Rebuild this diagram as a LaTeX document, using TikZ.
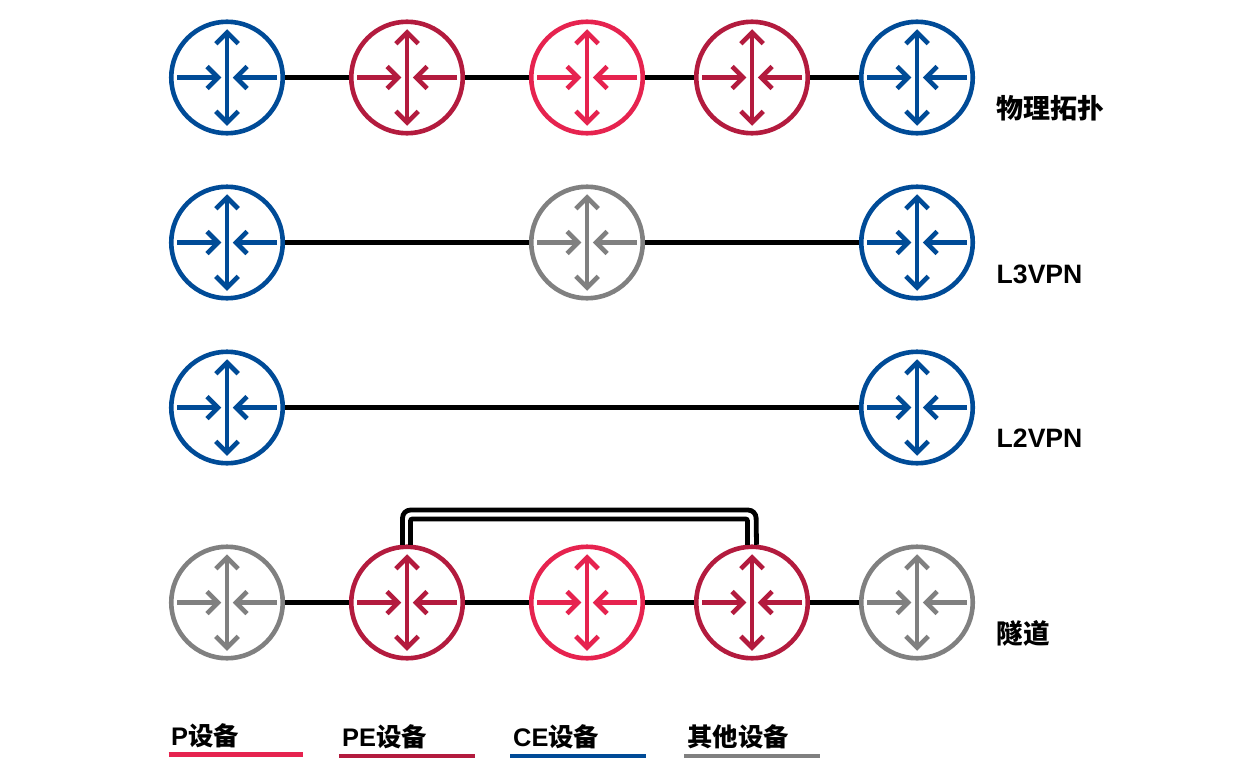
\documentclass[tikz,border=0pt]{standalone}
\usepackage{fontspec}
\setmainfont{Liberation Sans}
\newfontfamily\cjk{Noto Sans CJK SC}
\usetikzlibrary{calc}
\definecolor{ceblue}{HTML}{004B97}
\definecolor{pecrim}{HTML}{B31B3E}
\definecolor{pred}{HTML}{E6234F}
\definecolor{othgray}{HTML}{808080}
\tikzset{
  routerbody/.style={circle,draw=#1,line width=4.6pt,minimum size=111.5pt,inner sep=0pt,fill=white},
  rarrow/.style={draw=#1,line width=4.6pt,line cap=butt,line join=miter},
  linkline/.style={draw=black,line width=4.6pt},
  tunnelline/.style={draw=black,line width=4.8pt,rounded corners=#1},
  legendline/.style={draw=#1,line width=4.8pt},
  labeltext/.style={anchor=base west,inner sep=0pt,font=\fontsize{26.6pt}{30pt}\selectfont\bfseries},
  legendtext/.style={anchor=base west,inner sep=0pt,font=\fontsize{25.4pt}{30pt}\selectfont\bfseries}
}
\newcommand{\routerat}[4]{%
  \node[routerbody=#4] (#1) at (#2,#3) {};
  \begin{scope}[shift={(#2,#3)}]
    \draw[rarrow=#4] (0,-45) -- (0,45);
    \draw[rarrow=#4] (-11.2,-33.8) -- (0,-45) -- (11.2,-33.8);
    \draw[rarrow=#4] (-11.2,33.8) -- (0,45) -- (11.2,33.8);
    \draw[rarrow=#4] (-50,0) -- (-9,0);
    \draw[rarrow=#4] (-20,-11) -- (-9,0) -- (-20,11);
    \draw[rarrow=#4] (50,0) -- (9,0);
    \draw[rarrow=#4] (20,-11) -- (9,0) -- (20,11);
  \end{scope}}
\begin{document}
\begin{tikzpicture}[x=1pt,y=-1pt]
\useasboundingbox[fill=white] (0,0) rectangle (1260,779);
% row 1
\routerat{a1}{227}{77.5}{ceblue}
\routerat{a2}{407}{77.5}{pecrim}
\routerat{a3}{587}{77.5}{pred}
\routerat{a4}{752}{77.5}{pecrim}
\routerat{a5}{917}{77.5}{ceblue}
\draw[linkline] (a1) -- (a2);
\draw[linkline] (a2) -- (a3);
\draw[linkline] (a3) -- (a4);
\draw[linkline] (a4) -- (a5);
% row 2
\routerat{b1}{227}{242.5}{ceblue}
\routerat{b3}{587}{242.5}{othgray}
\routerat{b5}{917}{242.5}{ceblue}
\draw[linkline] (b1) -- (b3);
\draw[linkline] (b3) -- (b5);
% row 3
\routerat{c1}{227}{407.5}{ceblue}
\routerat{c5}{917}{407.5}{ceblue}
\draw[linkline] (c1) -- (c5);
% row 4
\routerat{d1}{227}{602.5}{othgray}
\routerat{d2}{407}{602.5}{pecrim}
\routerat{d3}{587}{602.5}{pred}
\routerat{d4}{752}{602.5}{pecrim}
\routerat{d5}{917}{602.5}{othgray}
\draw[linkline] (d1) -- (d2);
\draw[linkline] (d2) -- (d3);
\draw[linkline] (d3) -- (d4);
\draw[linkline] (d4) -- (d5);
% tunnel
\draw[tunnelline=8pt] ($(d2.north)+(-4.5,0.3)$) -- (402.5,510) -- (756,510) -- ($(d4.north)+(4.5,0.3)$);
\draw[tunnelline=2pt] ($(d2.north)+(3.5,0.3)$) -- (410.5,519) -- (747.5,519) -- ($(d4.north)+(-4.5,0.3)$);
% labels
\node[labeltext,font=\fontsize{27pt}{30pt}\selectfont\bfseries] (t1) at (996.5,118) {{\cjk 物理拓扑}};
\node[labeltext] (t2) at (996.5,283) {L3VPN};
\node[labeltext] (t3) at (996.5,447.5) {L2VPN};
\node[labeltext] (t4) at (996.5,643) {{\cjk 隧道}};
% legend
\node[legendtext] (l1) at (171,745.5) {P{\cjk 设备}};
\node[legendtext] (l2) at (342,746) {PE{\cjk 设备}};
\node[legendtext] (l3) at (513,746) {CE{\cjk 设备}};
\node[legendtext] (l4) at (687,746) {{\cjk 其他设备}};
\coordinate (p1a) at (168.5,754.5); \coordinate (p1b) at (303,754.5);
\coordinate (p2a) at (339,756); \coordinate (p2b) at (474.5,756);
\coordinate (p3a) at (510,756); \coordinate (p3b) at (645.5,756);
\coordinate (p4a) at (684,756); \coordinate (p4b) at (819.5,756);
\draw[legendline=pred] (p1a) -- (p1b);
\draw[legendline=pecrim] (p2a) -- (p2b);
\draw[legendline=ceblue] (p3a) -- (p3b);
\draw[legendline=othgray] (p4a) -- (p4b);
\end{tikzpicture}
\end{document}
